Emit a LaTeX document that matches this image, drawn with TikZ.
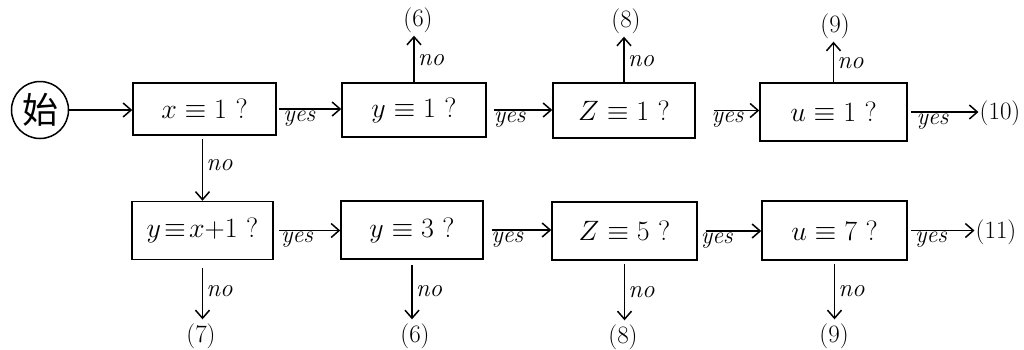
\RequirePackage{fix-cm}
\documentclass[tikz,border=0pt]{standalone}
\usepackage{fontspec}
\newfontfamily\cjk{Noto Sans CJK SC}
\usetikzlibrary{arrows.meta}
\begin{document}
\begin{tikzpicture}[x=1pt,y=-1pt,
  box/.style={draw, line width=1.5pt, inner sep=0pt, font=\fontsize{28}{32}\selectfont},
  arr/.style={-{Straight Barb[length=8pt,width=14pt,line width=1.5pt]}, line width=1.5pt},
  yeslbl/.style={font=\fontsize{24}{26}\selectfont\itshape, inner sep=1pt},
  nolbl/.style={font=\fontsize{25}{26}\selectfont\itshape, inner sep=3pt},
  num/.style={font=\fontsize{25}{26}\selectfont, inner sep=1pt}]
\useasboundingbox (0,0) rectangle (1024,349);
% start
\node[draw, circle, line width=1.5pt, minimum size=57pt, inner sep=0pt, font=\cjk\fontsize{36}{38}\selectfont] (st) at (40,110) {始};
% top row
\node[box, minimum width=143pt, minimum height=52pt] (b1) at (204.5,109) {$x \equiv 1$ ?};
\node[box, minimum width=144pt, minimum height=54pt] (b2) at (414,110) {$y \equiv 1$ ?};
\node[box, minimum width=142pt, minimum height=55pt] (b3) at (624,110.5) {$Z \equiv 1$ ?};
\node[box, minimum width=147pt, minimum height=58pt] (b4) at (833.5,112) {$u \equiv 1$ ?};
% bottom row
\node[box, minimum width=141pt, minimum height=58pt] (b5) at (202.5,230.5) {$y\mskip2mu{\equiv}\mskip2mu x{+}1$ ?};
\node[box, minimum width=142pt, minimum height=58pt] (b6) at (412,230) {$y \equiv 3$ ?};
\node[box, minimum width=145pt, minimum height=58pt] (b7) at (624.5,231) {$Z \equiv 5$ ?};
\node[box, minimum width=145pt, minimum height=59pt] (b8) at (834.5,230.5) {$u \equiv 7$ ?};
% outcome labels
\node[num] (o6a) at (418,20) {(6)};
\node[num] (o8a) at (626,21) {(8)};
\node[num] (o9a) at (835,26) {(9)};
\node[num] (o10) at (1000,113) {(10)};
\node[num] (o11) at (996,232) {(11)};
\node[num] (o7) at (201,336) {(7)};
\node[num] (o6b) at (415,336) {(6)};
\node[num] (o8b) at (623,337) {(8)};
\node[num] (o9b) at (834,336) {(9)};
% connectors
\draw[arr] (st.east) -- (st.east -| b1.west);
\draw[arr, shorten <=2pt] (b1.east) -- (b1.east -| b2.west) node[yeslbl, below, pos=0.35] {yes};
\draw[arr, shorten <=7pt] (b2.east) -- (b2.east -| b3.west) node[yeslbl, below, pos=0.35] {yes};
\draw[arr, shorten <=18pt] (b3.east) -- (b3.east -| b4.west) node[yeslbl, below, pos=0.5] {yes};
\draw[arr, shorten <=3pt] (b4.east) -- (b4.east -| o10.west) node[yeslbl, below, pos=0.35] {yes};
\draw[arr, shorten <=5pt] (b5.east) -- (b5.east -| b6.west) node[yeslbl, below, pos=0.35] {yes};
\draw[arr, shorten <=8pt] (b6.east) -- (b6.east -| b7.west) node[yeslbl, below, pos=0.35] {yes};
\draw[arr, shorten <=8pt] (b7.east) -- (b7.east -| b8.west) node[yeslbl, below, pos=0.3] {yes};
\draw[arr, shorten <=3pt] (b8.east) -- (b8.east -| o11.west) node[yeslbl, below, pos=0.35] {yes};
% no branches up
\draw[arr, shorten >=2pt] (b2.north) -- (b2.north |- o6a.south) node[nolbl, right, pos=0.45] {no};
\draw[arr, shorten >=2pt] (b3.north) -- (b3.north |- o8a.south) node[nolbl, right, pos=0.45] {no};
\draw[arr, shorten >=2pt] (b4.north) -- (b4.north |- o9a.south) node[nolbl, right, pos=0.45] {no};
% no branches down
\draw[arr, shorten <=3pt] (b1.south -| b5.north) -- (b5.north) node[nolbl, right, pos=0.45] {no};
\draw[arr, shorten <=8pt, shorten >=3pt] (b5.south) -- (b5.south |- o7.north) node[nolbl, right, pos=0.5] {no};
\draw[arr, shorten <=5pt, shorten >=3pt] (b6.south) -- (b6.south |- o6b.north) node[nolbl, right, pos=0.5] {no};
\draw[arr, shorten <=3pt, shorten >=3pt] (b7.south) -- (b7.south |- o8b.north) node[nolbl, right, pos=0.5] {no};
\draw[arr, shorten <=3pt, shorten >=3pt] (b8.south) -- (b8.south |- o9b.north) node[nolbl, right, pos=0.5] {no};
\end{tikzpicture}
\end{document}
